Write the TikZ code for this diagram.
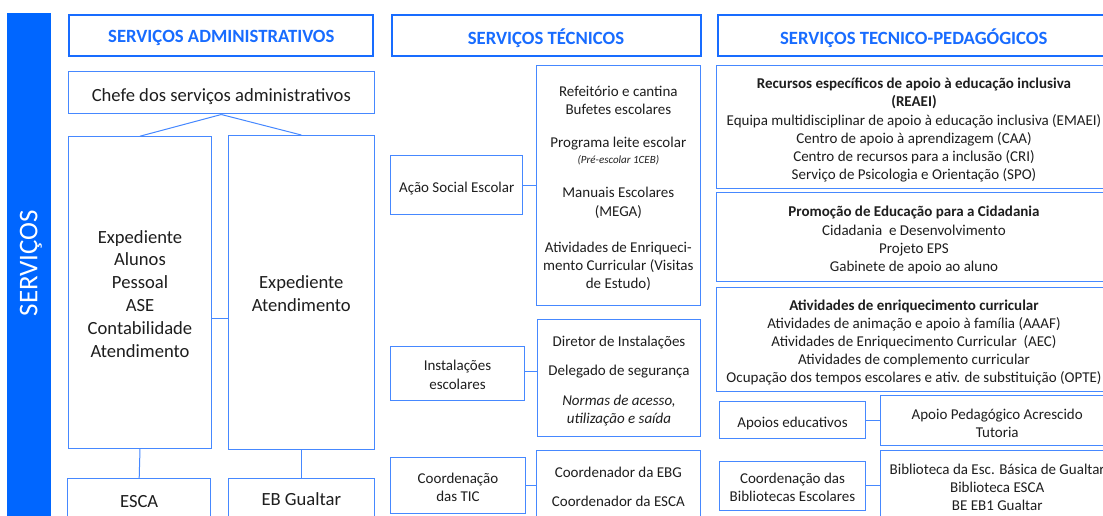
\documentclass[tikz,border=0pt]{standalone}
\usepackage{fontspec}
\setmainfont{Carlito}
\definecolor{boxblue}{RGB}{70,136,255}
\definecolor{hdrblue}{RGB}{24,108,255}
\definecolor{barblue}{RGB}{0,102,255}
\definecolor{txt}{RGB}{30,30,30}
% box node (#2) centred at (#3,#4), size #5 x #6, text #7 set slightly low
\newcommand\bnode[7][]{%
  \node[#1, minimum width=#5pt, minimum height=#6pt] (#2) at (#3,#4) {};
  \node[#1, draw=none, fill=none, textlow] (#2-t) at (#2.center) {#7};}
\begin{document}
\begin{tikzpicture}[x=1pt,y=-1pt,
  textlow/.style={yshift=-3pt},
  box/.style={draw=boxblue, line width=1pt, inner sep=0pt, align=center, text=txt,
    font=\fontsize{15}{18.2}\selectfont},
  bigbox/.style={box, font=\fontsize{18.6}{22.8}\selectfont},
  hdr/.style={draw=hdrblue, line width=2pt, inner sep=0pt, text=hdrblue,
    font=\bfseries\fontsize{18.7}{22}\selectfont},
  low/.style={textlow/.style={yshift=-#1pt}},
  link/.style={draw=boxblue, line width=1pt}]
\useasboundingbox (0,0) rectangle (1103,516);
\clip (0,0) rectangle (1103,516);
\fill[white] (0,0) rectangle (1103,516);

% side bar
\node[fill=barblue, minimum width=44pt, minimum height=502.7pt, inner sep=0pt] (bar) at (28.7,264.65) {};
\node[rotate=90, text=white, font=\fontsize{27}{30}\selectfont, inner sep=0pt] (bartext) at (31,263) {SERVIÇOS};

% headers
\bnode[hdr]{hadm}{221.3}{35.35}{304}{40.7}{SERVIÇOS ADMINISTRATIVOS}
\bnode[hdr]{htec}{546}{35.35}{309}{40.7}{SERVIÇOS TÉCNICOS}
\bnode[hdr]{hped}{913.75}{35.35}{392.5}{40.7}{SERVIÇOS TECNICO-PEDAGÓGICOS}

% administrative column
\bnode[bigbox, low=3.5]{chefe}{221.3}{92.85}{306}{42.3}{Chefe dos serviços administrativos}
\bnode[bigbox, low=1.3]{lt}{140}{292.5}{143.4}{311.6}{Expediente\\Alunos\\Pessoal\\ASE\\Contabilidade\\Atendimento}
\bnode[bigbox, low=1]{rt}{301.3}{292.4}{146}{313.8}{Expediente\\Atendimento}
\bnode[bigbox, low=0.7]{esca}{139.2}{500.7}{143}{44}{ESCA}
\bnode[bigbox, low=0]{ebg}{301.3}{499}{146}{42}{EB Gualtar}
\draw[link] (chefe.south) -- (lt.north);
\draw[link] (chefe.south) -- (rt.north);
\draw[link] ([yshift=-25.8pt]lt.east) -- ([yshift=-25.8pt]lt.east -| rt.west);
\draw[link] (lt.south) -- (esca.north);
\draw[link] (rt.south) -- (ebg.north);

% technical column
\bnode[box]{ase}{456.7}{185.35}{132}{58.7}{Ação Social Escolar}
\bnode[box]{ref}{618.35}{185.35}{163.3}{239.3}{Refeitório e cantina\\Bufetes escolares\\[15pt]
   Programa leite escolar\\[-2pt]{\fontsize{11}{12}\selectfont\itshape (Pré-escolar 1CEB)}\\[16pt]
   Manuais Escolares\\(MEGA)\\[18pt]
   Atividades de Enriqueci-\\mento Curricular (Visitas\\de Estudo)}
\draw[link] (ase.east) -- (ref.west |- ase.east);

\bnode[box, low=1.5]{inst}{457.5}{373.35}{133.6}{53.3}{Instalações\\escolares}
\bnode[box]{dir}{619}{377.85}{163.4}{117.7}{Diretor de Instalações\\[11.3pt]Delegado de segurança\\[11.3pt]
   \itshape Normas de acesso,\\\itshape utilização e saída}
\draw[link] ([yshift=1.6pt]inst.east) -- ([yshift=1.6pt]inst.east -| dir.west);

\bnode[box, low=2]{tic}{458}{485.5}{134.6}{55.6}{Coordenação\\das TIC}
\bnode[box, low=0]{coord}{618.35}{486.7}{163.3}{72}{Coordenador da EBG\\[10.5pt]Coordenador da ESCA}
\draw[link] (tic.east) -- (tic.east -| coord.west);

% pedagogical column
\bnode[box]{reaei}{914}{127.15}{396}{122.3}{\bfseries Recursos específicos de apoio à educação inclusiva\\\bfseries (REAEI)\\
   Equipa multidisciplinar de apoio à educação inclusiva (EMAEI)\\
   Centro de apoio à aprendizagem (CAA)\\
   Centro de recursos para a inclusão (CRI)\\
   Serviço de Psicologia e Orientação (SPO)}
\bnode[box]{cid}{914}{237.2}{396}{89}{\bfseries Promoção de Educação para a Cidadania\\
   Cidadania\ \ e Desenvolvimento\\Projeto EPS\\Gabinete de apoio ao aluno}
\bnode[box]{aec}{914}{339.5}{396}{104.4}{\bfseries Atividades de enriquecimento curricular\\
   Atividades de animação e apoio à família (AAAF)\\
   Atividades de Enriquecimento Curricular\ \ (AEC)\\
   Atividades de complemento curricular\\
   Ocupação dos tempos escolares e ativ. de substituição (OPTE)}
\bnode[box]{apoios}{792.5}{420}{146.4}{36.6}{Apoios educativos}
\bnode[box]{apa}{997.2}{420}{233}{50}{Apoio Pedagógico Acrescido\\Tutoria}
\draw[link] (apoios.east) -- (apa.west);
\bnode[box, low=1.5]{cbe}{792.5}{485.85}{146.4}{49.7}{Coordenação das\\Bibliotecas Escolares}
\bnode[box, low=0.5]{bib}{997.2}{486.7}{233}{73.4}{Biblioteca da Esc. Básica de Gualtar\\Biblioteca ESCA\\BE EB1 Gualtar}
\draw[link] (cbe.east) -- (cbe.east -| bib.west);
\end{tikzpicture}
\end{document}
